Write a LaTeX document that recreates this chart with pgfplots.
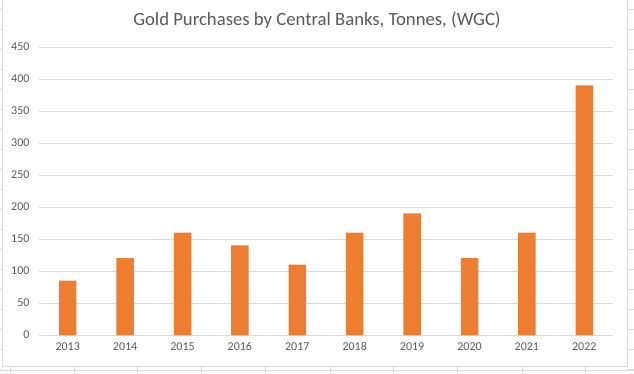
\documentclass[border=0pt]{standalone}
\usepackage{pgfplots}
\pgfplotsset{compat=1.18}
\usepackage{fontspec}
\setmainfont{Carlito}
\definecolor{barc}{HTML}{ED7D31}
\definecolor{gridc}{HTML}{D9D9D9}
\definecolor{txt}{HTML}{595959}
\definecolor{cell}{HTML}{DADADA}
\begin{document}
\begin{tikzpicture}[x=1pt,y=1pt]
\useasboundingbox (-39,-38) rectangle (595,335);
% spreadsheet cell lines outside the chart
\foreach \xx in {10,74,137,201,265,330,393,457,522,585} {
  \draw[cell, line width=0.8pt] (\xx-39,-31) -- (\xx-39,-38);
}
\draw[cell, line width=0.8pt] (-39,-35) -- (595,-35);
\foreach \yy in {9,29,...,369} {
  \draw[cell, line width=0.8pt] (588,373-\yy-38) -- (595,373-\yy-38);
  \draw[cell, line width=0.8pt] (-39,373-\yy-38) -- (-37,373-\yy-38);
}
\fill[white] (-37,-31) rectangle (588,336);
\draw[cell, line width=0.8pt] (-37,-31) rectangle (588,340);
\node[text=txt, font=\fontsize{18.7}{20}\selectfont] at (278,315) {Gold Purchases by Central Banks, Tonnes, (WGC)};
\begin{axis}[
  at={(0,0)}, anchor=south west,
  scale only axis, width=574pt, height=288pt,
  xmin=-0.5, xmax=9.5, ymin=0, ymax=450,
  ybar, bar width=17.5pt,
  ytick={0,50,...,450},
  xtick={0,...,9},
  xticklabels={2013,2014,2015,2016,2017,2018,2019,2020,2021,2022},
  axis line style={draw=none},
  ymajorgrids, grid style={draw=gridc, line width=0.8pt},
  major tick length=0pt,
  /pgf/number format/assume math mode=true,
  tick label style={font=\fontsize{12}{12}\selectfont, text=txt},
  yticklabel style={xshift=-6pt},
  xticklabel style={yshift=-4pt},
]
\addplot[fill=barc, draw=none] coordinates {
  (0,85) (1,120) (2,160) (3,140) (4,110) (5,160) (6,190) (7,120) (8,160) (9,390)
};
\end{axis}
\end{tikzpicture}
\end{document}
